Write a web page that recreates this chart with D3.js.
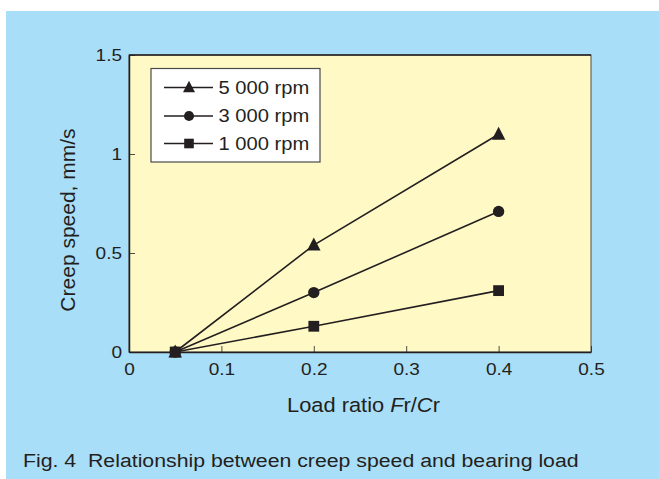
<!DOCTYPE html>
<html>
<head>
<meta charset="utf-8">
<script src="https://cdn.jsdelivr.net/npm/d3@7"></script>
<style>
  html, body { margin: 0; padding: 0; background: #ffffff; }
  svg { display: block; }
  text { font-family: "Liberation Sans", Arial, Helvetica, sans-serif; fill: #231f20; }
</style>
</head>
<body>
<svg id="chart" width="659" height="479"></svg>
<script>
// ---- data ----
const loadRatios = [0.05, 0.2, 0.4];
const seriesNames = ["5 000 rpm", "3 000 rpm", "1 000 rpm"];
const speed5000 = [0, 0.54, 1.1];
const speed3000 = [0, 0.30, 0.71];
const speed1000 = [0, 0.13, 0.31];
const markerShapes = ["triangle", "circle", "square"];
const xTicks = [0, 0.1, 0.2, 0.3, 0.4, 0.5];
const xTickLabels = ["0", "0.1", "0.2", "0.3", "0.4", "0.5"];
const yTicks = [0, 0.5, 1, 1.5];
const yTickLabels = ["0", "0.5", "1", "1.5"];
const captionText = "Fig. 4  Relationship between creep speed and bearing load";

const allSeries = [speed5000, speed3000, speed1000];

// ---- layout ----
const svg = d3.select("#chart");
const ink = "#231f20";
const SX = 1.12; // horizontal stretch of the reference lettering

svg.append("rect").attr("x", 6).attr("y", 11).attr("width", 653).attr("height", 468)
  .attr("fill", "#a9def8");

const x = d3.scaleLinear().domain([0, 0.5]).range([129, 591]);
const y = d3.scaleLinear().domain([0, 1.5]).range([352, 55]);

// plot area
svg.append("rect")
  .attr("x", x(0)).attr("y", y(1.5))
  .attr("width", x(0.5) - x(0)).attr("height", y(0) - y(1.5))
  .attr("fill", "#fff9c6").attr("stroke", "#4a4a4a").attr("stroke-width", 1);
svg.append("line").attr("x1", x(0)).attr("x2", x(0.5)).attr("y1", y(1.5)).attr("y2", y(1.5))
  .attr("stroke", ink).attr("stroke-width", 1.3);

// axes
const xAxis = d3.axisBottom(x).tickValues(xTicks)
  .tickFormat((d, i) => xTickLabels[i]).tickSizeInner(-6).tickSizeOuter(0);
const gx = svg.append("g").attr("transform", `translate(0,${y(0)})`).call(xAxis);
gx.select(".domain").attr("stroke", ink).attr("stroke-width", 1.5);
gx.selectAll(".tick line").attr("stroke", ink).attr("stroke-width", 0.8);
gx.selectAll(".tick text").attr("y", 11).attr("font-size", 17)
  .attr("font-family", "Liberation Sans, Arial, sans-serif").attr("fill", ink)
  .attr("transform", `scale(${SX},1)`);

const yAxis = d3.axisLeft(y).tickValues(yTicks)
  .tickFormat((d, i) => yTickLabels[i]).tickSizeInner(-6).tickSizeOuter(0);
const gy = svg.append("g").attr("transform", `translate(${x(0)},0)`).call(yAxis);
gy.select(".domain").attr("stroke", ink).attr("stroke-width", 1.5);
gy.selectAll(".tick line").attr("stroke", ink).attr("stroke-width", 0.8);
gy.selectAll(".tick text").attr("x", -7 / SX).attr("font-size", 17)
  .attr("font-family", "Liberation Sans, Arial, sans-serif").attr("fill", ink)
  .attr("transform", `scale(${SX},1)`);

// marker drawing
function drawMarker(g, shape, cx, cy, s) {
  if (shape === "triangle") {
    const h = s * 0.9;
    g.append("path")
      .attr("d", `M${cx},${cy - h * 0.62} L${cx + s / 2},${cy + h * 0.45} L${cx - s / 2},${cy + h * 0.45} Z`)
      .attr("fill", ink);
  } else if (shape === "circle") {
    g.append("circle").attr("cx", cx).attr("cy", cy).attr("r", s * 0.42).attr("fill", ink);
  } else {
    const w = s * 0.8;
    g.append("rect").attr("x", cx - w / 2).attr("y", cy - w / 2).attr("width", w).attr("height", w)
      .attr("fill", ink);
  }
}

// series
const line = d3.line().x((d, i) => x(loadRatios[i])).y(d => y(d));
const gSeries = svg.append("g");
allSeries.forEach((vals, si) => {
  gSeries.append("path").datum(vals).attr("d", line)
    .attr("fill", "none").attr("stroke", ink).attr("stroke-width", 1.6);
});
allSeries.forEach((vals, si) => {
  vals.forEach((v, i) => drawMarker(gSeries, markerShapes[si], x(loadRatios[i]), y(v), 13.5));
});

// legend
const lg = svg.append("g");
lg.append("rect").attr("x", 151).attr("y", 68.5).attr("width", 169).attr("height", 93.5)
  .attr("fill", "#ffffff").attr("stroke", "#4a4a4a").attr("stroke-width", 1.2);
const rowY = [87.5, 116, 143.5];
seriesNames.forEach((name, i) => {
  lg.append("line").attr("x1", 164).attr("x2", 213).attr("y1", rowY[i]).attr("y2", rowY[i])
    .attr("stroke", ink).attr("stroke-width", 1.6);
  drawMarker(lg, markerShapes[i], 189, rowY[i], 12);
  lg.append("text").attr("transform", `translate(218.5,${rowY[i]}) scale(${SX},1)`)
    .attr("dy", "0.36em").attr("font-size", 18).text(name);
});

// axis titles
const xt = svg.append("text")
  .attr("transform", `translate(363.5,412) scale(${SX},1)`)
  .attr("text-anchor", "middle").attr("font-size", 19.5);
xt.append("tspan").text("Load ratio ");
xt.append("tspan").attr("font-style", "italic").text("F");
xt.append("tspan").text("r/");
xt.append("tspan").attr("font-style", "italic").text("C");
xt.append("tspan").text("r");

svg.append("text")
  .attr("transform", "translate(75,220) rotate(-90)")
  .attr("text-anchor", "middle").attr("font-size", 21)
  .text("Creep speed, mm/s");

// caption
svg.append("text")
  .attr("transform", `translate(23,467) scale(${SX},1)`)
  .attr("font-size", 19).style("white-space", "pre").attr("xml:space", "preserve")
  .text(captionText);
</script>
</body>
</html>
